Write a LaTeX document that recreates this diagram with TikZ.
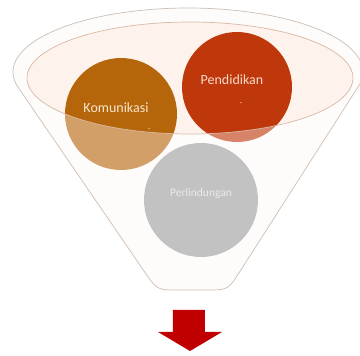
\documentclass[tikz,border=0pt]{standalone}
\usepackage{fontspec}
\setmainfont{Carlito}
\definecolor{outerfill}{HTML}{FEFBF9}
\definecolor{innerfill}{HTML}{FDF2EC}
\definecolor{outerline}{HTML}{CDBFB5}
\definecolor{innerline}{HTML}{D9B8A3}
\definecolor{komcol}{HTML}{B5650A}
\definecolor{pencol}{HTML}{BE380C}
\definecolor{percol}{HTML}{9E9E9E}
\definecolor{komtext}{HTML}{F8E6CC}
\definecolor{pentext}{HTML}{F8D9C8}
\definecolor{arrowred}{HTML}{C00000}
\def\funnelpath{(19.2,-88.9) arc[start angle=195.3, end angle=-15.3, x radius=175, y radius=64]
  -- (239.9,-271.5) .. controls (228,-290) .. (206,-290) -- (179,-290)
  .. controls (157,-290) .. (144.6,-271.9) -- cycle}
\tikzset{
  bubble/.style={circle, inner sep=0pt, minimum size=#1},
  label14/.style={font=\fontsize{14}{16}\selectfont, inner sep=0pt},
  dashlabel/.style={font=\fontsize{8}{9}\selectfont, inner sep=0pt},
}
\begin{document}
\begin{tikzpicture}[x=1pt,y=1pt]
\useasboundingbox (0,0) rectangle (360,-356);
\fill[white] (0,0) rectangle (360,-356);
% funnel background
\fill[outerfill] \funnelpath;
\fill[innerfill] (190,-78) ellipse[x radius=163, y radius=56];
% circles
\node[bubble=112pt, fill=komcol] (kom) at (121,-114) {};
\node[bubble=110pt, fill=pencol] (pen) at (237,-87) {};
\node[bubble=114pt, fill=percol] (per) at (201,-200) {};
% translucent body over circles
\fill[white, fill opacity=0.38, even odd rule] \funnelpath (190,-78) ellipse[x radius=163, y radius=56];
% outlines
\draw[outerline, line width=0.7pt] \funnelpath;
\draw[innerline, line width=0.7pt] (190,-78) ellipse[x radius=163, y radius=56];
% texts
\node[label14, text=komtext] (komtxt) at (116,-108) {Komunikasi};
\node[dashlabel, text=komtext] (komdash) at (149,-130) {-};
\node[label14, text=pentext] (pentxt) at (232,-80) {Pendidikan};
\node[dashlabel, text=pentext] (pendash) at (241,-104) {-};
\node[font=\fontsize{11.5}{13}\selectfont, inner sep=0pt, text=white!92!black] (pertxt) at (201,-193) {Perlindungan};
% arrow
\fill[arrowred] (173,-310) -- (205,-310) -- (205,-332) -- (222,-332) -- (190,-351) -- (158,-332) -- (173,-332) -- cycle;
\end{tikzpicture}
\end{document}
